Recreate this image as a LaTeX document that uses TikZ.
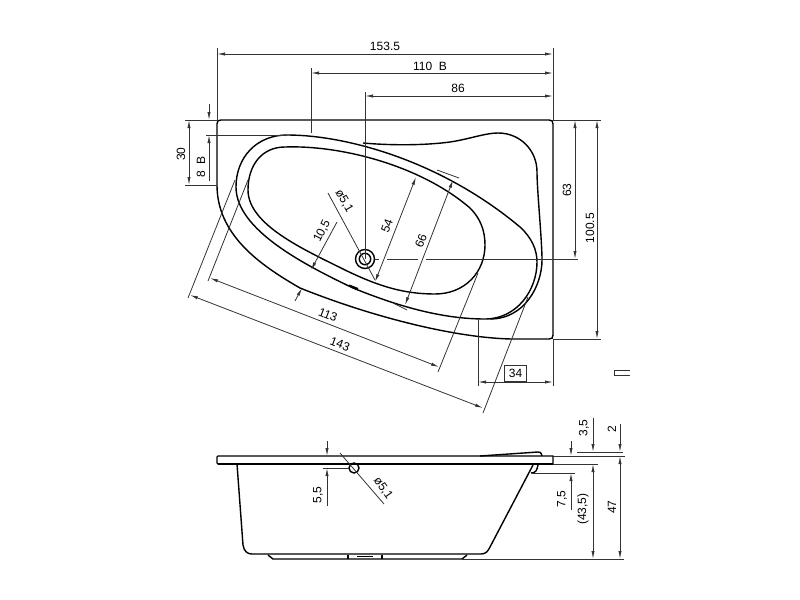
\documentclass[tikz,border=0pt]{standalone}
\usepackage{fontspec}
\setmainfont{Liberation Sans}
\usetikzlibrary{arrows.meta}

\tikzset{
	every picture/.style={line width=0.75pt},
	outline/.style={line width=1.05pt,black},
	thinline/.style={line width=0.6pt,black!80},
	dimline/.style={line width=0.6pt,black!80,{Latex[length=6,width=2.4]}-{Latex[length=6,width=2.4]}},
	dimtip/.style={line width=0.6pt,black!80,-{Latex[length=6,width=2.4]}},
	dimlabel/.style={font=\fontsize{9}{10}\selectfont,inner sep=0pt,text=black},
}

\begin{document}
\begin{tikzpicture}[x=0.75pt,y=0.75pt,yscale=-1,xscale=1]
	\useasboundingbox (0,0) rectangle (800,600);

	%Shape: tub rim, plan
	\draw [outline] (217,124) .. controls (217,121) and (218,120) .. (221,120) -- (549,120) .. controls (552,120) and (553,121) .. (553,124) -- (553,335) .. controls (553,338) and (552,339) .. (549,339) -- (520,339) .. controls (470,340) and (385,322) .. (300,288) .. controls (260,265) and (217,235) .. (217,185) -- cycle ;
	%Shape: basin edge
	\draw [outline] (287,135) .. controls (345,135) and (440,160) .. (520,227) .. controls (532,238) and (537,250) .. (537,262) .. controls (537,290) and (517,319) .. (485,319) .. controls (440,319) and (395,305) .. (353,288) .. controls (305,265) and (236,230) .. (236,187) .. controls (236,157) and (257,135) .. (287,135) -- cycle ;
	%Shape: basin floor
	\draw [outline] (285,147) .. controls (340,145) and (420,165) .. (470,208) .. controls (480,218) and (485,230) .. (485,245) .. controls (485,272) and (465,294) .. (435,294) .. controls (405,294) and (380,287) .. (345,270) .. controls (305,250) and (248,225) .. (248,190) .. controls (248,165) and (262,147) .. (285,147) -- cycle ;
	%Shape: back rest
	\draw [outline] (363,143) .. controls (385,145) and (420,146) .. (450,142) .. controls (470,139) and (485,133) .. (498,133) .. controls (520,133) and (537,150) .. (537,172) .. controls (537,190) and (542,240) .. (542,260) .. controls (542,285) and (525,319) .. (490,319) ;
	%Shape: drain
	\draw [outline] (365,259) circle [radius=9.5] ;
	\draw [outline] (365,259) circle [radius=5.7] ;
	%Shape: overflow mark
	\draw [line width=1.6pt] (349,285.5) -- (358,289) ;

	%Straight Lines: extension lines, plan
	\draw [thinline] (217,48) -- (217,120) ;
	\draw [thinline] (553,48) -- (553,120) ;
	\draw [thinline] (311,68) -- (311,133) ;
	\draw [thinline] (365,92) -- (365,259) ;
	\draw [thinline] (185,120) -- (217,120) ;
	\draw [thinline] (185,185) -- (217,185) ;
	\draw [thinline] (206,135) -- (287,135) ;
	\draw [thinline] (553,120) -- (601,120) ;
	\draw [thinline] (553,339) -- (601,339) ;
	\draw [thinline] (375,259) -- (379,259) ;
	\draw [thinline] (387,259) -- (418,259) ;
	\draw [thinline] (426,259) -- (578,259) ;
	\draw [thinline] (478,320) -- (478,386) ;
	\draw [thinline] (553,339) -- (553,386) ;
	\draw [thinline] (235,180) -- (188,298) ;
	\draw [thinline] (528,297) -- (483,413) ;
	\draw [thinline] (248,180) -- (208,281) ;
	\draw [thinline] (478,273) -- (438,372) ;
	\draw [thinline] (437,170) -- (459,178) ;
	\draw [thinline] (393,303) -- (407,310) ;
	\draw [thinline] (328,193) -- (375,280) ;

	%Straight Lines: dimension lines, plan
	\draw [dimline] (217,54) -- (553,54) ;
	\draw [dimline] (311,73) -- (553,73) ;
	\draw [dimline] (365,96) -- (553,96) ;
	\draw [dimline] (189,120) -- (189,185) ;
	\draw [dimtip] (209,104) -- (209,120) ;
	\draw [dimtip] (209,181) -- (209,135) ;
	\draw [dimline] (575,120) -- (575,259) ;
	\draw [dimline] (597,120) -- (597,339) ;
	\draw [dimline] (478,382) -- (553,382) ;
	\draw [dimline] (190,295) -- (483,408) ;
	\draw [dimline] (210,278) -- (439,367) ;
	\draw [dimline] (416,177) -- (375,282) ;
	\draw [dimline] (453,180) -- (405,305) ;
	\draw [dimtip] (337,222) -- (311,270) ;
	\draw [dimtip] (295,301) -- (302,288) ;

	%Shape: rim, section
	\draw [outline] (218,456) -- (553,456) -- (553,464) -- (218,464) .. controls (217,464) and (217,463.5) .. (217,463) -- (217,457) .. controls (217,456.5) and (217,456) .. (218,456) -- cycle ;
	\draw [line width=1.5pt] (218,464) -- (553,464) ;
	%Shape: body, section
	\draw [outline] (237,464) -- (243,545) .. controls (244,551) and (247,554) .. (252,554) -- (481,554) .. controls (486,554) and (488,551) .. (490,547) -- (533,465) ;
	%Shape: lug
	\draw [outline] (538,465) .. controls (537,470) and (536,473) .. (531,473) ;
	%Shape: feet
	\draw [outline] (268,555) -- (273,559) -- (462,559) -- (467,555) ;
	\draw [outline] (348,555) -- (348,559) ;
	\draw [outline] (382,555) -- (382,559) ;
	\draw [line width=1.2pt] (357,556.5) -- (373,556.5) ;
	%Shape: head rest
	\draw [outline] (480,456) -- (538,452) .. controls (540,452) and (541,452) .. (542,456) ;
	%Shape: overflow
	\draw [outline] (354,468) circle [radius=5] ;

	%Straight Lines: extension lines, section
	\draw [thinline] (323,468) -- (349,468) ;
	\draw [thinline] (532,473) -- (575,473) ;
	\draw [thinline] (577,452) -- (623,452) ;
	\draw [thinline] (553,456) -- (625,456) ;
	\draw [thinline] (553,464) -- (598,464) ;
	\draw [thinline] (462,559) -- (624,559) ;
	\draw [thinline] (340,453) -- (384,504) ;

	%Straight Lines: dimension lines, section
	\draw [dimtip] (327,441) -- (327,456) ;
	\draw [dimtip] (327,506) -- (327,468) ;
	\draw [dimtip] (571,441) -- (571,456) ;
	\draw [dimtip] (571,510) -- (571,473) ;
	\draw [dimtip] (593,418) -- (593,452) ;
	\draw [dimline] (593,464) -- (593,559) ;
	\draw [dimtip] (620,424) -- (620,452) ;
	\draw [dimline] (620,456) -- (620,559) ;

	%Shape: view mark
	\draw [thinline] (630,370) -- (614,370) -- (614,375) -- (630,375) ;

	% Text Node
	\node [dimlabel] (lenA) at (385,46) {153.5};
	\node [dimlabel] (lenB) at (430,66) {110\ \ B};
	\node [dimlabel] (lenC) at (458,88) {86};
	\node [dimlabel,rotate=90] (hgtA) at (181,154) {30};
	\node [dimlabel,rotate=90] (hgtB) at (201,167) {8\ \ B};
	\node [dimlabel,rotate=90] (hgtC) at (567,190) {63};
	\node [dimlabel,rotate=90] (hgtD) at (590,228) {100.5};
	\node [dimlabel,rotate=69] (widthA) at (387,226) {54};
	\node [dimlabel,rotate=69] (widthB) at (421,241) {66};
	\node [dimlabel,rotate=63] (rimA) at (322,231) {10,5};
	\node [dimlabel,rotate=-60] (drainA) at (344,201) {ø5,1};
	\node [dimlabel,rotate=-21] (lenD) at (328,315) {113};
	\node [dimlabel,rotate=-21] (lenE) at (340,344) {143};
	\node [dimlabel,draw,thinline,text=black,minimum width=17,minimum height=12] (boxA) at (515.5,373) {34};
	\node [dimlabel,rotate=90] (secA) at (318,495) {5,5};
	\node [dimlabel,rotate=-55] (drainB) at (383,488) {ø5,1};
	\node [dimlabel,rotate=90] (secB) at (562,499) {7,5};
	\node [dimlabel,rotate=90] (secC) at (584,428) {3,5};
	\node [dimlabel,rotate=90] (secD) at (583,509) {(43,5)};
	\node [dimlabel,rotate=90] (secE) at (612,429) {2};
	\node [dimlabel,rotate=90] (secF) at (612,507) {47};

\end{tikzpicture}
\end{document}
